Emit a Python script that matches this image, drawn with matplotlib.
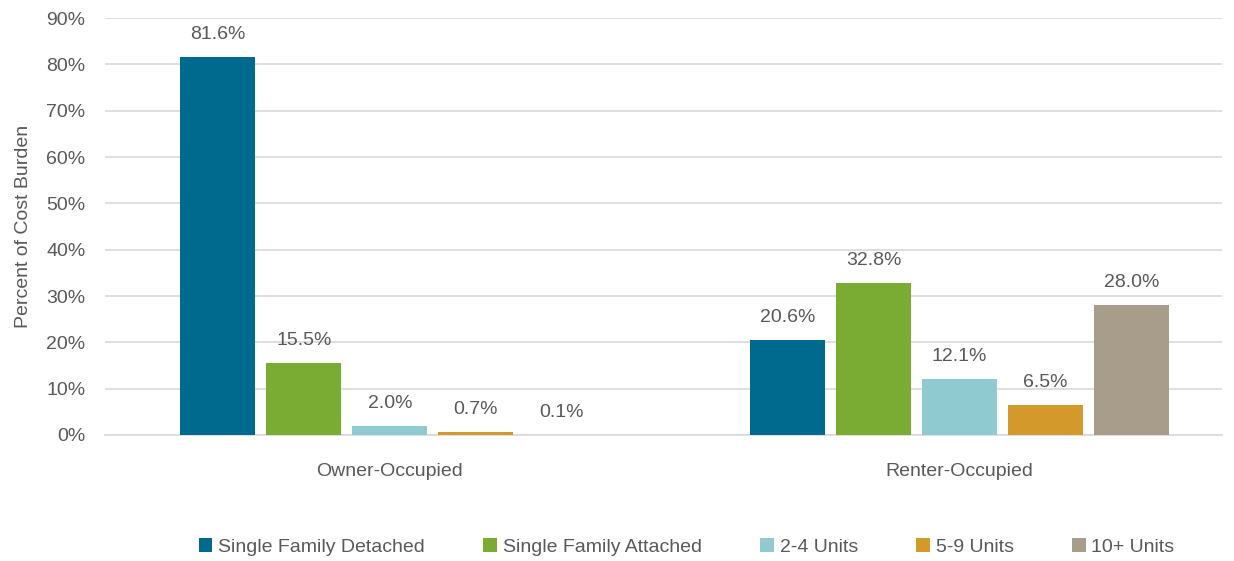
import numpy as np
import matplotlib.pyplot as plt
from matplotlib import font_manager

# Data
groups = ["Owner-Occupied", "Renter-Occupied"]
series = ["Single Family Detached", "Single Family Attached", "2-4 Units", "5-9 Units", "10+ Units"]
detached = [81.6, 20.6]
attached = [15.5, 32.8]
units_2_4 = [2.0, 12.1]
units_5_9 = [0.7, 6.5]
units_10 = [0.1, 28.0]
colors = ["#006A8E", "#7AAB33", "#8FCAD0", "#D4992B", "#A89C8A"]

names = {f.name for f in font_manager.fontManager.ttflist}
fam = "Liberation Sans Narrow" if "Liberation Sans Narrow" in names else "Liberation Sans"
plt.rcParams["font.family"] = [fam, "DejaVu Sans"]
txt = "#595959"

fig = plt.figure(figsize=(12.34, 5.61), dpi=100)
ax = fig.add_axes([0.085, 0.2246, 0.905, 0.7433])

x = np.arange(len(groups))
width = 0.1316
pitch = 0.151
values = [detached, attached, units_2_4, units_5_9, units_10]
for i, (name, vals, c) in enumerate(zip(series, values, colors)):
    pos = x + (i - 2) * pitch
    bars = ax.bar(pos, vals, width, color=c, label=name, zorder=3)
    for b, v in zip(bars, vals):
        ax.text(b.get_x() + b.get_width() / 2, v + 3, f"{v:.1f}%", ha="center", va="bottom",
                fontsize=14, color=txt)

ax.set_ylim(0, 90)
ax.set_xlim(-0.5, 1.46)
ax.set_yticks(np.arange(0, 91, 10))
ax.set_yticklabels([f"{t}%" for t in range(0, 91, 10)], fontsize=14, color=txt)
ax.set_xticks(x)
ax.set_xticklabels(groups, fontsize=14, color=txt)
ax.tick_params(length=0)
ax.tick_params(axis="x", pad=20)
ax.tick_params(axis="y", pad=14)
ax.yaxis.grid(True, color="#D9D9D9", linewidth=1.2, zorder=0)
for s in ["top", "right", "left"]:
    ax.spines[s].set_visible(False)
ax.spines["bottom"].set_color("#D9D9D9")
ax.spines["bottom"].set_linewidth(1.2)
ax.set_ylabel("Percent of Cost Burden", fontsize=14, color=txt, labelpad=10)

ax.legend(loc="center", bbox_to_anchor=(0.521, -0.268), ncol=5, frameon=False, fontsize=14,
          handlelength=0.7, handleheight=0.7, handletextpad=0.3, columnspacing=3.0,
          labelcolor=txt)

fig.savefig("out.png", dpi=100)
